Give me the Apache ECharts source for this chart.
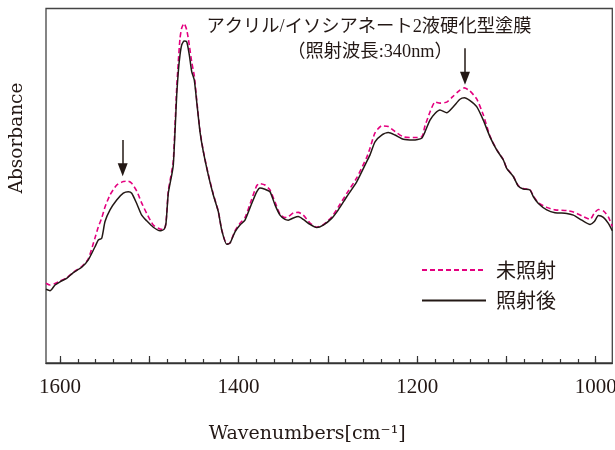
<!DOCTYPE html>
<html>
<head>
<meta charset="utf-8">
<script src="https://cdn.jsdelivr.net/npm/echarts@6/dist/echarts.min.js"></script>
<style>
html,body{margin:0;padding:0;background:#fff;}
#chart{width:615px;height:450px;}
</style>
</head>
<body>
<div id="chart"></div>
<script>
// Wavenumbers (cm-1), x values shared by both spectra
const wavenumbers = [
1615.7,1611.2,1605.6,1600,1592.5,1585.1,1575.7,1568.3,1560.8,1557.1,
1553.3,1549.6,1544,1536.5,1529.1,1523.5,1519.7,1514.1,1508.5,1502.9,
1495.5,1488,1483.5,1481.3,1478.7,1474.9,1473.1,1471.2,1469.3,1467.5,
1465.6,1463.7,1461.1,1458.1,1455.2,1452.5,1449.6,1446.9,1443.2,1439.5,
1433.9,1428.3,1422.7,1418.9,1413.3,1409.6,1404,1398.4,1392.8,1385.3,
1379.7,1376,1370.4,1364.8,1359.2,1353.6,1348,1344.3,1338.7,1333.1,
1327.5,1320,1312.5,1305.1,1295.7,1288.3,1278.9,1267.7,1256.5,1252.8,
1247.2,1239.7,1232.3,1224.8,1215.5,1204.3,1194.9,1191.2,1185.6,1180,
1174.4,1166.9,1159.5,1152,1147.1,1140.8,1133.3,1125.9,1118.4,1110.9,
1103.5,1099.7,1092.3,1086.7,1081.1,1073.6,1069.8,1064.2,1054.8,1045.6,
1032.4,1025,1015.6,1006.3,1001.5,997,991.4,985.8,981.4
];
// 未照射 (before irradiation)
const unirradiated = [
0.225,0.220,0.224,0.231,0.240,0.256,0.272,0.294,0.353,0.384,
0.409,0.440,0.474,0.502,0.512,0.513,0.507,0.485,0.451,0.422,
0.389,0.378,0.377,0.396,0.485,0.540,0.570,0.670,0.776,0.850,
0.916,0.945,0.958,0.940,0.897,0.849,0.810,0.742,0.655,0.598,
0.532,0.476,0.428,0.376,0.336,0.339,0.373,0.394,0.410,0.462,
0.500,0.506,0.502,0.488,0.454,0.420,0.410,0.413,0.423,0.425,
0.417,0.395,0.383,0.390,0.412,0.440,0.478,0.522,0.580,0.606,
0.649,0.669,0.667,0.653,0.638,0.636,0.638,0.669,0.708,0.736,
0.733,0.736,0.753,0.770,0.776,0.767,0.745,0.700,0.640,0.602,
0.574,0.550,0.527,0.500,0.492,0.489,0.471,0.452,0.439,0.432,
0.430,0.426,0.415,0.405,0.423,0.433,0.429,0.412,0.385
];
// 照射後 (after irradiation)
const irradiated = [
0.208,0.204,0.220,0.229,0.239,0.255,0.270,0.291,0.328,0.347,
0.352,0.399,0.432,0.460,0.479,0.483,0.479,0.450,0.417,0.401,
0.383,0.373,0.377,0.394,0.479,0.530,0.559,0.652,0.756,0.822,
0.869,0.897,0.908,0.906,0.869,0.822,0.798,0.737,0.652,0.596,
0.530,0.474,0.427,0.375,0.335,0.338,0.370,0.389,0.403,0.450,
0.483,0.494,0.490,0.483,0.446,0.417,0.405,0.403,0.409,0.413,
0.405,0.391,0.382,0.389,0.408,0.432,0.469,0.511,0.568,0.587,
0.624,0.643,0.650,0.643,0.631,0.629,0.634,0.652,0.685,0.704,
0.714,0.706,0.723,0.744,0.748,0.740,0.723,0.685,0.638,0.601,
0.573,0.549,0.526,0.499,0.491,0.488,0.469,0.450,0.432,0.424,
0.422,0.417,0.403,0.391,0.399,0.416,0.411,0.394,0.373
];
const seriesNames = ['未照射', '照射後'];
const labelTicks = [1000, 1200, 1400, 1600];
const majorTicks = [1000, 1100, 1200, 1300, 1400, 1500, 1600];
const minorTicks = [1000,1020,1040,1060,1080,1100,1120,1140,1160,1180,1200,1220,1240,1260,1280,1300,1320,1340,1360,1380,1400,1420,1440,1460,1480,1500,1520,1540,1560,1580,1600];
// arrow annotations: [wavenumber, top, tip]
const arrow1 = [1529.8, 0.629, 0.545];
const arrow2 = [1146.4, 0.888, 0.803];
const xRange = [981.4, 1615.7];

const pair = arr => wavenumbers.map((w, i) => [w, arr[i]]);
const serif = "'Liberation Serif', 'Noto Sans CJK JP', serif";
const txt = '#231815';
const gridBox = {left: 46, right: 2.7, top: 8.5, bottom: 87, containLabel: false, outerBoundsMode: 'none'};

const chart = echarts.init(document.getElementById('chart'), null, {renderer: 'canvas'});
chart.setOption({
  animation: false,
  backgroundColor: '#fff',
  title: [
    {text: 'アクリル/イソシアネート2液硬化型塗膜', left: 369, top: 18, textAlign: 'center', padding: 0,
     textStyle: {fontFamily: serif, fontSize: 18.3, fontWeight: 'normal', color: txt}},
    {text: '（照射波長:340nm）', left: 370, top: 43, textAlign: 'center', padding: 0,
     textStyle: {fontFamily: serif, fontSize: 18.3, fontWeight: 'normal', color: txt}}
  ],
  grid: [
    Object.assign({show: true, borderColor: '#444', borderWidth: 1.3, backgroundColor: 'transparent'}, gridBox),
    Object.assign({show: false}, gridBox)
  ],
  legend: {
    orient: 'vertical', left: 421, top: 260, padding: 0, itemWidth: 64, itemHeight: 20, itemGap: 10.5,
    data: seriesNames,
    itemStyle: {opacity: 0},
    textStyle: {fontFamily: "'Noto Sans CJK JP'", fontSize: 20, color: txt, padding: [0, 0, 0, 5]}
  },
  xAxis: [
    {type: 'value', gridIndex: 0, min: xRange[0], max: xRange[1], inverse: true,
     name: 'Wavenumbers[cm⁻¹]', nameLocation: 'middle', nameGap: 62,
     nameTextStyle: {fontFamily: "'DejaVu Serif', 'Noto Sans CJK JP', serif", fontSize: 19, color: txt, padding: [0, 44, 0, 0]},
     axisLine: {lineStyle: {color: '#333', width: 1.3}},
     axisTick: {inside: true, length: 7, customValues: majorTicks, lineStyle: {color: '#333', width: 1.2}},
     axisLabel: {customValues: labelTicks, margin: 14, fontFamily: serif, fontSize: 21, color: txt,
                 formatter: v => String(v)},
     splitLine: {show: false}},
    {type: 'value', gridIndex: 1, min: xRange[0], max: xRange[1], inverse: true, position: 'bottom',
     axisLine: {show: false},
     axisTick: {inside: true, length: 4, customValues: minorTicks, lineStyle: {color: '#333', width: 1.2}},
     axisLabel: {show: false}, splitLine: {show: false}}
  ],
  yAxis: [
    {type: 'value', gridIndex: 0, min: 0, max: 1, show: false},
    {type: 'value', gridIndex: 1, min: 0, max: 1, show: false}
  ],
  graphic: [
    {type: 'text', x: 17, y: 138, rotation: Math.PI / 2,
     style: {text: 'Absorbance', fontFamily: "'DejaVu Serif', serif", fontSize: 18.5, fill: txt, align: 'center', verticalAlign: 'middle'}}
  ],
  series: [
    {name: seriesNames[0], type: 'line', xAxisIndex: 0, yAxisIndex: 0, data: pair(unirradiated), showSymbol: false, symbol: 'none', smooth: 0.2,
     lineStyle: {color: '#e4007f', width: 1.6, type: [5, 3]}, itemStyle: {color: '#e4007f'}, z: 2},
    {name: seriesNames[1], type: 'line', xAxisIndex: 0, yAxisIndex: 0, data: pair(irradiated), showSymbol: false, symbol: 'none', smooth: 0.2,
     lineStyle: {color: '#231815', width: 1.5}, itemStyle: {color: '#231815'}, z: 3,
     markLine: {
       silent: true, symbol: ['none', 'triangle'], symbolSize: [10, 13],
       lineStyle: {color: '#231815', width: 1.5, type: 'solid'}, label: {show: false},
       data: [
         [{coord: [arrow1[0], arrow1[1]]}, {coord: [arrow1[0], arrow1[2]]}],
         [{coord: [arrow2[0], arrow2[1]]}, {coord: [arrow2[0], arrow2[2]]}]
       ]
     }}
  ]
});
</script>
</body>
</html>
